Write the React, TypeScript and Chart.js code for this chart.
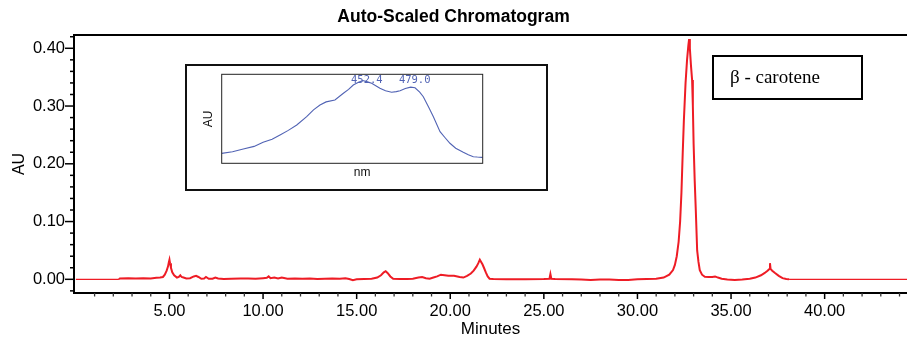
import React, { useEffect, useRef } from "react";
import { Chart, registerables } from "chart.js";

Chart.register(...registerables);

// ---------- text ----------
const CHART_TITLE = "Auto-Scaled Chromatogram";
const X_TITLE = "Minutes";
const Y_TITLE = "AU";
const LEGEND_LABEL = "β - carotene";
const X_TICK_LABELS = ["5.00", "10.00", "15.00", "20.00", "25.00", "30.00", "35.00", "40.00"];
const Y_TICK_LABELS = ["0.00", "0.10", "0.20", "0.30", "0.40"];
const INSET_X_TITLE = "nm";
const INSET_Y_TITLE = "AU";

// ---------- chromatogram (minutes, AU) ----------
const timeMin = [
  0, 2.3, 2.35, 2.8, 3.2, 3.6, 4.0, 4.3, 4.5, 4.65, 4.75, 4.85, 4.92, 4.97, 5.0, 5.03, 5.08, 5.15, 5.25, 5.4,
  5.5, 5.58, 5.65, 5.75, 5.9, 6.1, 6.3, 6.42, 6.55, 6.7, 6.85, 6.95, 7.1, 7.3, 7.45, 7.6, 7.9, 8.3, 8.8, 9.2,
  9.6, 10.0, 10.2, 10.3, 10.4, 10.6, 10.8, 11.0, 11.3, 11.7, 12.1, 12.5, 12.9, 13.3, 13.7, 14.1, 14.4, 14.6, 14.8, 15.0,
  15.4, 15.8, 16.1, 16.3, 16.45, 16.55, 16.65, 16.8, 16.95, 17.3, 17.7, 18.0, 18.3, 18.5, 18.7, 18.9, 19.1, 19.3, 19.5, 19.7,
  19.9, 20.2, 20.5, 20.7, 20.9, 21.1, 21.25, 21.4, 21.5, 21.58, 21.65, 21.72, 21.8, 21.9, 22.0, 22.1, 22.3, 23.0, 24.0, 25.0,
  25.3, 25.35, 25.4, 25.6, 26.5, 27.0, 27.5, 28.0, 28.5, 29.0, 29.5, 30.0, 30.5, 31.0, 31.4, 31.7, 31.9, 32.0, 32.1, 32.2,
  32.28, 32.35, 32.42, 32.48, 32.57, 32.65, 32.72, 32.76, 32.8, 32.86, 32.92, 32.96, 33.0, 33.06, 33.12, 33.19, 33.26, 33.33, 33.45, 33.6,
  33.8, 34.0, 34.15, 34.3, 34.5, 34.8, 35.2, 35.6, 36.0, 36.3, 36.6, 36.8, 36.95, 37.05, 37.08, 37.11, 37.2, 37.35, 37.55, 37.75,
  37.95, 38.1, 40.0, 44.4,
];
const absorbanceAU = [
  0, 0, 0.0015, 0.0018, 0.0015, 0.002, 0.0015, 0.0025, 0.003, 0.004, 0.008, 0.015, 0.022, 0.03, 0.034, 0.028, 0.02, 0.012, 0.007, 0.003,
  0.004, 0.007, 0.004, 0.003, 0.0015, 0.002, 0.005, 0.006, 0.004, 0.001, 0.0015, 0.004, 0.001, 0.001, 0.003, 0.0015, 0.0005, 0.001, 0.0012, 0.0015,
  0.001, 0.002, 0.0025, 0.005, 0.002, 0.003, 0.0015, 0.003, 0.001, 0.0015, 0.001, 0.0015, 0.0005, 0.001, 0.0015, 0.001, 0.002, 0.0005, -0.0015, 0,
  0.0005, 0.001, 0.003, 0.007, 0.012, 0.014, 0.011, 0.005, 0.001, 0.0005, 0.0005, 0.001, 0.003, 0.004, 0.002, 0.001, 0.003, 0.005, 0.008, 0.007,
  0.006, 0.006, 0.004, 0.003, 0.006, 0.01, 0.015, 0.022, 0.028, 0.034, 0.03, 0.026, 0.02, 0.012, 0.005, 0.001, 0.0005, 0.0003, 0.0003, 0.0005,
  0.001, 0.009, 0.001, 0.0005, 0.0003, -0.0005, -0.001, -0.0005, -0.0005, -0.001, -0.001, 0, 0.0005, 0.001, 0.003, 0.008, 0.016, 0.025, 0.04, 0.065,
  0.1, 0.15, 0.22, 0.275, 0.34, 0.38, 0.405, 0.416, 0.4, 0.37, 0.345, 0.3, 0.235, 0.17, 0.117, 0.05, 0.03, 0.016, 0.008, 0.0045,
  0.004, 0.004, 0.005, 0.003, 0.001, -0.0005, -0.001, -0.0005, 0.001, 0.003, 0.007, 0.011, 0.015, 0.018, 0.028, 0.018, 0.015, 0.011, 0.006, 0.002,
  0.0005, 0, 0, 0,
];

// ---------- inset UV-Vis spectrum (nm, relative AU) ----------
const spectrumNm = [
  374, 380, 386, 392, 397, 402, 406.4, 411, 415.7, 421.2, 425, 428.6, 432, 436.9, 441.6, 444.5, 447.1, 450, 452.4, 455,
  457.3, 461.9, 465, 468.4, 471, 473.1, 476, 479.0, 481.4, 484, 486.0, 489, 491.6, 495.3, 498, 500.8, 504, 508.2, 511, 513.8, 516, 518.4, 519,
];
const spectrumAU = [
  0.112, 0.13, 0.161, 0.19, 0.236, 0.27, 0.318, 0.37, 0.43, 0.524, 0.6, 0.655, 0.69, 0.711, 0.787, 0.83, 0.88, 0.91, 0.93, 0.915,
  0.899, 0.843, 0.815, 0.798, 0.805, 0.816, 0.84, 0.856, 0.849, 0.8, 0.748, 0.63, 0.524, 0.355, 0.29, 0.225, 0.17, 0.124, 0.095, 0.074, 0.07, 0.067, 0.066,
];
const spectrumPeakNm = [452.4, 479.0];
const spectrumPeakLabels = ["452.4", "479.0"];

const RED = "#ee1c25";
const BLUE = "#5163b4";
const SANS = '"Liberation Sans", Arial, Helvetica, sans-serif';
const SERIF = '"Liberation Serif", "Times New Roman", serif';

const isLabelled = (labels: string[], v: number) => labels.find((l) => Math.abs(parseFloat(l) - v) < 1e-6);

const mainDecor = {
  id: "mainDecor",
  afterDraw(chart: any) {
    const { ctx, chartArea } = chart;
    const xs = chart.scales.x;
    const ys = chart.scales.y;
    ctx.save();
    ctx.strokeStyle = "#000";
    // top frame line
    ctx.lineWidth = 2;
    ctx.beginPath();
    ctx.moveTo(chartArea.left - 1, chartArea.top);
    ctx.lineTo(chartArea.right, chartArea.top);
    ctx.stroke();
    // x tick marks
    xs.ticks.forEach((t: any) => {
      const px = xs.getPixelForValue(t.value);
      if (px < chartArea.left + 2) return;
      const major = !!isLabelled(X_TICK_LABELS, t.value);
      ctx.lineWidth = major ? 1.5 : 1.3;
      ctx.strokeStyle = major ? "#000" : "#333";
      ctx.beginPath();
      ctx.moveTo(px, chartArea.bottom);
      ctx.lineTo(px, chartArea.bottom + (major ? 6 : 3.5));
      ctx.stroke();
    });
    // y tick marks
    ys.ticks.forEach((t: any) => {
      const py = ys.getPixelForValue(t.value);
      if (py > chartArea.bottom - 2) return;
      const major = !!isLabelled(Y_TICK_LABELS, t.value);
      ctx.lineWidth = 1.5;
      ctx.strokeStyle = "#000";
      ctx.beginPath();
      ctx.moveTo(chartArea.left - (major ? 9 : 4), py);
      ctx.lineTo(chartArea.left, py);
      ctx.stroke();
    });
    // legend box
    ctx.lineWidth = 2;
    ctx.strokeStyle = "#000";
    ctx.strokeRect(713, 56, 149, 43);
    ctx.fillStyle = "#000";
    ctx.font = `19px ${SERIF}`;
    ctx.textAlign = "left";
    ctx.textBaseline = "middle";
    ctx.fillText(LEGEND_LABEL, 730, 78);
    ctx.restore();
  },
};

const insetDecor = {
  id: "insetDecor",
  beforeDraw(chart: any) {
    const { ctx, width, height } = chart;
    ctx.save();
    ctx.fillStyle = "#fff";
    ctx.fillRect(0, 0, width, height);
    ctx.restore();
  },
  afterDraw(chart: any) {
    const { ctx, chartArea, width, height } = chart;
    const xs = chart.scales.x;
    const ys = chart.scales.y;
    ctx.save();
    ctx.strokeStyle = "#111";
    ctx.lineWidth = 2;
    ctx.strokeRect(1, 1, width - 2, height - 2);
    ctx.lineWidth = 1;
    ctx.strokeStyle = "#222";
    ctx.strokeRect(chartArea.left, chartArea.top, chartArea.right - chartArea.left, chartArea.bottom - chartArea.top);
    ctx.fillStyle = "#111";
    ctx.font = `12px ${SANS}`;
    ctx.textAlign = "center";
    ctx.textBaseline = "middle";
    ctx.fillText(INSET_X_TITLE, (chartArea.left + chartArea.right) / 2 + 10, chartArea.bottom + 9);
    ctx.save();
    ctx.translate(chartArea.left - 13, (chartArea.top + chartArea.bottom) / 2);
    ctx.rotate(-Math.PI / 2);
    ctx.fillText(INSET_Y_TITLE, 0, 0);
    ctx.restore();
    ctx.fillStyle = BLUE;
    ctx.font = `10.5px "DejaVu Sans Mono", monospace`;
    spectrumPeakNm.forEach((nm, i) => {
      const px = xs.getPixelForValue(nm);
      ctx.fillText(spectrumPeakLabels[i], px + 4, ys.getPixelForValue(1) + 6);
    });
    ctx.restore();
  },
};

export default function App() {
  const mainRef = useRef<HTMLCanvasElement>(null);
  const insetRef = useRef<HTMLCanvasElement>(null);

  useEffect(() => {
    const points = timeMin.map((t, i) => ({ x: t, y: absorbanceAU[i] }));
    const main = new Chart(mainRef.current!, {
      type: "line",
      data: {
        datasets: [
          {
            data: points,
            borderColor: RED,
            borderWidth: 2,
            pointRadius: 0,
            tension: 0,
            segment: {
              borderWidth: (c: any) => (c.p0.parsed.x < 2.3 || c.p0.parsed.x >= 38.1 ? 1.2 : 2),
            },
          },
        ],
      },
      options: {
        responsive: false,
        animation: false,
        layout: { padding: 0 },
        plugins: {
          legend: { display: false },
          tooltip: { enabled: false },
          title: {
            display: true,
            text: CHART_TITLE,
            color: "#000",
            font: { family: SANS, size: 17.5, weight: "bold" },
            padding: { top: 7, bottom: 7 },
          },
        },
        scales: {
          x: {
            type: "linear",
            min: -0.1,
            max: 44.4,
            afterFit: (s: any) => {
              s.height = 47;
            },
            border: { display: true, color: "#000", width: 2 },
            grid: { display: true, drawOnChartArea: false, drawTicks: true, tickLength: 6, tickColor: "rgba(0,0,0,0)" },
            ticks: {
              stepSize: 1,
              includeBounds: false,
              autoSkip: false,
              maxRotation: 0,
              padding: 3,
              color: "#000",
              font: { family: SANS, size: 16.5 },
              callback: (v: any) => isLabelled(X_TICK_LABELS, Number(v)) || "",
            },
            title: {
              display: true,
              text: X_TITLE,
              color: "#000",
              font: { family: SANS, size: 17 },
              padding: { top: 0, bottom: 0 },
            },
          },
          y: {
            type: "linear",
            min: -0.0237,
            max: 0.423,
            afterFit: (s: any) => {
              s.width = 74;
            },
            border: { display: true, color: "#000", width: 2 },
            grid: { display: true, drawOnChartArea: false, drawTicks: true, tickLength: 9, tickColor: "rgba(0,0,0,0)" },
            ticks: {
              stepSize: 0.02,
              includeBounds: false,
              autoSkip: false,
              padding: 0,
              color: "#000",
              font: { family: SANS, size: 16.5 },
              callback: (v: any) => isLabelled(Y_TICK_LABELS, Number(v)) || "",
            },
            title: {
              display: true,
              text: Y_TITLE,
              color: "#000",
              font: { family: SANS, size: 16 },
              padding: { top: 9.5, bottom: 0 },
            },
          },
        },
      },
      plugins: [mainDecor],
    } as any);

    const specPoints = spectrumNm.map((n, i) => ({ x: n, y: spectrumAU[i] }));
    const inset = new Chart(insetRef.current!, {
      type: "line",
      data: {
        datasets: [
          {
            data: specPoints,
            borderColor: BLUE,
            borderWidth: 1.1,
            pointRadius: 0,
            tension: 0,
          },
        ],
      },
      options: {
        responsive: false,
        animation: false,
        layout: { padding: { left: 36.7, top: 10.3, right: 65.3, bottom: 27.7 } },
        plugins: { legend: { display: false }, tooltip: { enabled: false }, title: { display: false } },
        scales: {
          x: { type: "linear", min: 374, max: 519, display: false },
          y: { type: "linear", min: 0, max: 1, display: false },
        },
      },
      plugins: [insetDecor],
    } as any);

    return () => {
      main.destroy();
      inset.destroy();
    };
  }, []);

  return (
    <div style={{ position: "absolute", left: 0, top: 0, width: 907, height: 340, background: "#fff", overflow: "hidden" }}>
      <canvas ref={mainRef} width={907} height={340} style={{ position: "absolute", left: 0, top: 0, display: "block" }} />
      <canvas ref={insetRef} width={363} height={127} style={{ position: "absolute", left: 185, top: 64, display: "block" }} />
    </div>
  );
}
